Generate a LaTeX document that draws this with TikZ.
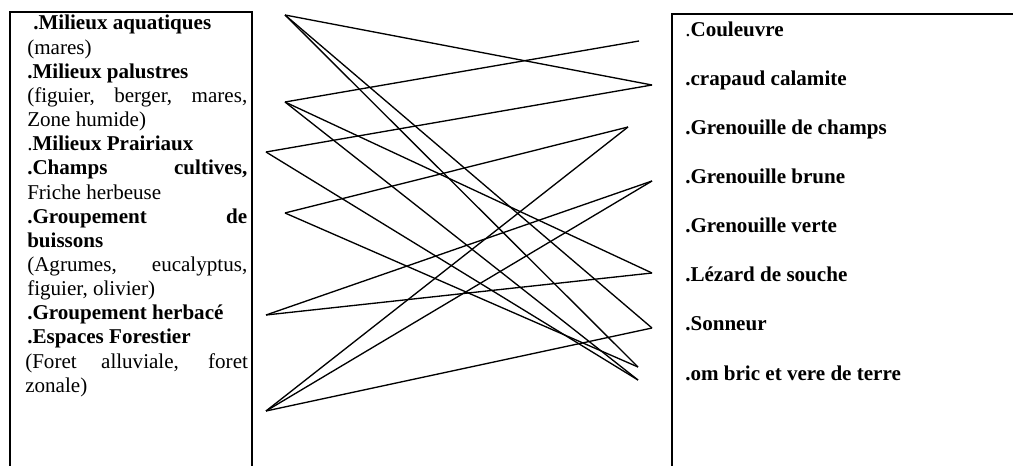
\documentclass[tikz,border=0pt]{standalone}
\usepackage{fontspec}
\setmainfont{Liberation Serif}
\newcommand{\justif}[1]{\makebox[165pt][s]{#1}}
\tikzset{
  cadre/.style={line width=1.5pt},
  lien/.style={line width=1pt},
  hab/.style={anchor=base west, inner sep=0pt, font=\fontsize{15.8}{18}\selectfont},
  esp/.style={anchor=base west, inner sep=0pt, font=\fontsize{15.8}{18}\selectfont\bfseries},
}
\begin{document}
\begin{tikzpicture}[x=0.75pt, y=-0.75pt]
        \useasboundingbox (0,0) rectangle (1013,466);
        % les deux cadres
        \draw[cadre] (10,466) -- (10,12) -- (252,12) -- (252,466);
        \draw[cadre] (672,466) -- (672,14) -- (1013,14);
        % milieux
        \node[hab] (h1) at (33,30) {\textbf{.Milieux aquatiques}};
        \node[hab] (h2) at (27,54.15) {(mares)};
        \node[hab] (h3) at (27,78.3) {\textbf{.Milieux palustres}};
        \node[hab] (h4) at (27,102.45) {\justif{(figuier, berger, mares,}};
        \node[hab] (h5) at (27,126.6) {Zone humide)};
        \node[hab] (h6) at (27,150.75) {.\textbf{Milieux Prairiaux}};
        \node[hab] (h7) at (27,174.9) {\justif{\bfseries .Champs cultives,}};
        \node[hab] (h8) at (27,199.05) {Friche herbeuse};
        \node[hab] (h9) at (27,223.2) {\justif{\bfseries .Groupement de}};
        \node[hab] (h10) at (27,247.35) {\textbf{buissons}};
        \node[hab] (h11) at (27,271.5) {\justif{(Agrumes, eucalyptus,}};
        \node[hab] (h12) at (27,295.65) {figuier, olivier)};
        \node[hab] (h13) at (27,319.8) {\textbf{.Groupement herbacé}};
        \node[hab] (h14) at (27,343.95) {\textbf{.Espaces Forestier}};
        \node[hab] (h15) at (25,368.1) {\makebox[167pt][s]{(Foret alluviale, foret}};
        \node[hab] (h16) at (25,392.25) {zonale)};
        % especes
        \node[esp] (e1) at (685,37) {\mdseries.\bfseries Couleuvre};
        \node[esp] (e2) at (685,86) {.crapaud calamite};
        \node[esp] (e3) at (685,135) {.Grenouille de champs};
        \node[esp] (e4) at (685,184) {.Grenouille brune};
        \node[esp] (e5) at (685,233) {.Grenouille verte};
        \node[esp] (e6) at (685,282) {.Lézard de souche};
        \node[esp] (e7) at (685,331) {.Sonneur};
        \node[esp] (e8) at (685,380) {.om bric et vere de terre};
        % extremites des traits
        \coordinate (g1) at (285,15);
        \coordinate (g2) at (285,102);
        \coordinate (g3) at (266,152);
        \coordinate (g4) at (285,213);
        \coordinate (g5) at (266,315);
        \coordinate (g6) at (266,411);
        \coordinate (d1) at (639,41);
        \coordinate (d2) at (652,85);
        \coordinate (d3) at (628,127);
        \coordinate (d4) at (652,181);
        \coordinate (d5) at (652,273);
        \coordinate (d6) at (652,328);
        \coordinate (d7) at (638,367);
        \coordinate (d8) at (638,380);
        \foreach \a/\b in {1/2,1/6,1/7,2/1,2/5,2/8,3/2,3/8,4/3,4/7,5/4,5/5,6/3,6/4,6/6}
            \draw[lien] (g\a) -- (d\b);
\end{tikzpicture}
\end{document}
